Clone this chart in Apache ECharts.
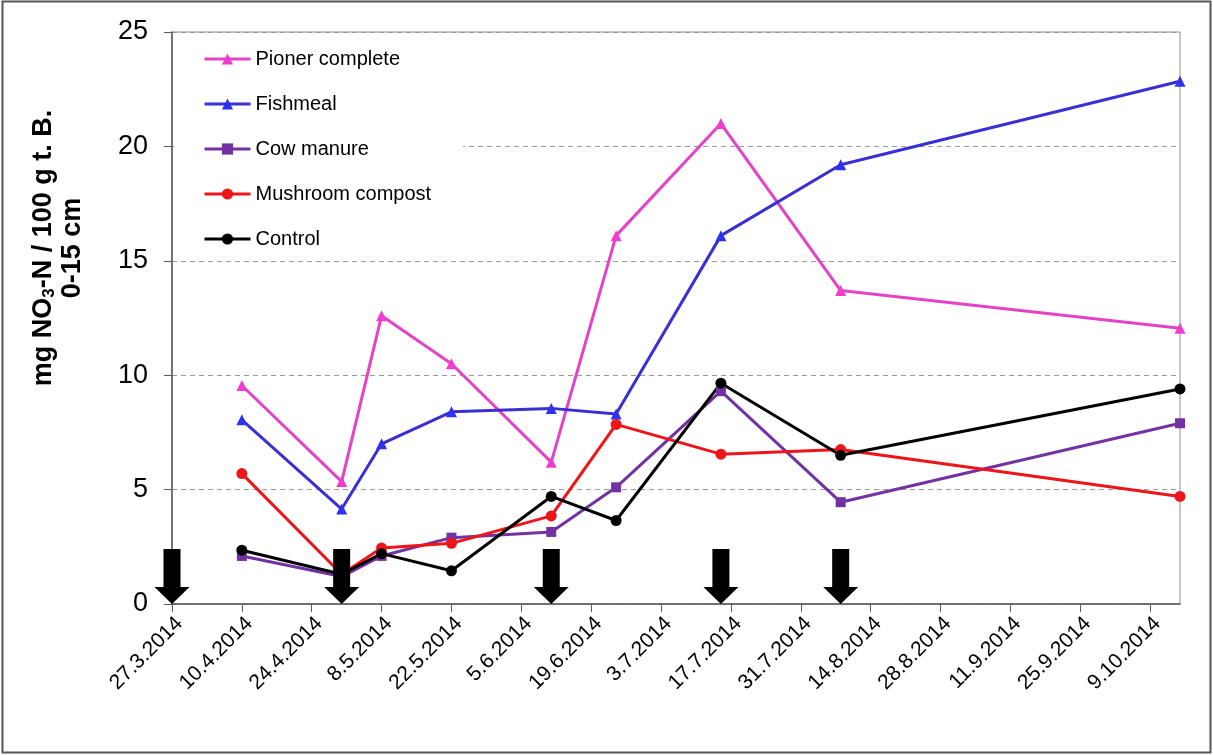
<!DOCTYPE html>
<html>
<head>
<meta charset="utf-8">
<title>NO3-N 0-15 cm</title>
<script src="https://cdn.jsdelivr.net/npm/echarts@6/dist/echarts.min.js"></script>
<style>
  html, body { margin: 0; padding: 0; background: #fff; }
  #chart { width: 1213px; height: 755px; }
</style>
</head>
<body>
<div id="chart"></div>
<script>
// Sampling dates (day.month.year) and NO3-N values, mg / 100 g dry soil, 0-15 cm
const sampleDates = ['10.4.2014', '30.4.2014', '8.5.2014', '22.5.2014', '11.6.2014',
                     '24.6.2014', '15.7.2014', '8.8.2014', '15.10.2014'];
const pionerComplete = [9.55, 5.35, 12.6, 10.5, 6.2, 16.1, 21.0, 13.7, 12.05];
const fishmeal       = [8.05, 4.15, 7.0, 8.4, 8.55, 8.3, 16.1, 19.2, 22.85];
const cowManure      = [2.1, 1.2, 2.1, 2.9, 3.15, 5.1, 9.3, 4.45, 7.9];
const mushroomCompost= [5.7, 1.3, 2.45, 2.65, 3.85, 7.85, 6.55, 6.75, 4.7];
const control        = [2.35, 1.3, 2.2, 1.45, 4.7, 3.65, 9.65, 6.5, 9.4];

// Fertilisation dates, shown as arrows on the x axis
const fertilisationDates = ['27.3.2014', '30.4.2014', '11.6.2014', '15.7.2014', '8.8.2014'];

// Axis range and tick spacing
const axisStart = '27.3.2014';
const axisEnd = '15.10.2014';
const tickDays = 14;
const yMin = 0, yMax = 25, yStep = 5;

const DAY = 86400000;
const toTime = s => {
  const [d, m, y] = s.split('.').map(Number);
  return Date.UTC(y, m - 1, d);
};
const fmtDate = v => {
  const d = new Date(v);
  return d.getUTCDate() + '.' + (d.getUTCMonth() + 1) + '.' + d.getUTCFullYear();
};
const pairs = vals => vals.map((v, i) => [toTime(sampleDates[i]), v]);

const FONT = 'Arial, "Liberation Sans", sans-serif';
const arrowPath = 'path://M9,0 L26,0 L26,38 L35,38 L17.5,55 L0,38 L9,38 Z';

const lineSeries = (name, data, color, symbol, size, markerColor) => ({
  name,
  type: 'line',
  data: pairs(data),
  symbol,
  symbolSize: size,
  showAllSymbol: true,
  lineStyle: { color, width: 3 },
  itemStyle: { color: markerColor || color, opacity: 1 },
  emphasis: { disabled: true },
  z: 3
});

const chart = echarts.init(document.getElementById('chart'), null, { renderer: 'canvas' });
chart.setOption({
  animation: false,
  backgroundColor: '#fff',
  textStyle: { fontFamily: FONT },
  grid: {
    left: 172, right: 33, top: 32, bottom: 151,
    show: true, borderColor: '#8c8c8c', borderWidth: 1, backgroundColor: 'transparent'
  },
  legend: {
    orient: 'vertical',
    left: 174, top: 33.5,
    padding: [15.5, 32, 6, 29],
    backgroundColor: '#fff',
    itemWidth: 46, itemHeight: 14, itemGap: 25,
    lineStyle: { width: 3 },
    textStyle: { fontSize: 20, color: '#000', fontFamily: FONT, lineHeight: 20 },
    data: ['Pioner complete', 'Fishmeal', 'Cow manure', 'Mushroom compost', 'Control']
  },
  xAxis: {
    type: 'value',
    min: toTime(axisStart),
    max: toTime(axisEnd),
    interval: tickDays * DAY,
    axisLine: { lineStyle: { color: '#595959', width: 1.5 } },
    axisTick: { show: true, inside: false, length: 8, lineStyle: { color: '#595959' } },
    splitLine: { show: false },
    axisLabel: {
      rotate: 45, margin: 9, fontSize: 21, color: '#000', fontFamily: FONT,
      verticalAlign: 'top',
      showMaxLabel: false, formatter: fmtDate
    }
  },
  yAxis: {
    type: 'value',
    min: yMin, max: yMax, interval: yStep,
    axisLine: { show: true, lineStyle: { color: '#595959', width: 1.5 } },
    axisTick: { show: true, inside: false, length: 8, lineStyle: { color: '#595959' } },
    splitLine: { show: true, lineStyle: { color: '#9a9a9a', type: [5, 4], width: 1 } },
    axisLabel: { margin: 24, fontSize: 27, color: '#000', fontFamily: FONT }
  },
  graphic: [
    {
      type: 'rect', silent: true, z: -1,
      shape: { x: 2.5, y: 1.5, width: 1208, height: 751 },
      style: { fill: 'none', stroke: '#555', lineWidth: 2 }
    },
    {
      type: 'text', silent: true,
      x: 58, y: 248, rotation: Math.PI / 2,
      style: {
        text: '{a|mg NO}{s|3}{a|-N / 100 g t. B.}\n{a|0-15 cm}',
        align: 'center', verticalAlign: 'middle',
        rich: {
          a: { fontSize: 27, fontWeight: 'bold', fontFamily: FONT, fill: '#000', lineHeight: 29, align: 'center' },
          s: { fontSize: 17, fontWeight: 'bold', fontFamily: FONT, fill: '#000', lineHeight: 17, verticalAlign: 'bottom', align: 'center' }
        }
      }
    }
  ],
  series: [
    lineSeries('Pioner complete', pionerComplete, '#E343C5', 'triangle', 11, '#F03CD0'),
    lineSeries('Fishmeal', fishmeal, '#3A2FD2', 'triangle', 11, '#3030F0'),
    lineSeries('Cow manure', cowManure, '#7133A3', 'rect', 10),
    lineSeries('Mushroom compost', mushroomCompost, '#EE1418', 'circle', 11),
    lineSeries('Control', control, '#000000', 'circle', 11),
    {
      name: 'fertilisation',
      type: 'scatter',
      data: fertilisationDates.map(d => [toTime(d), 0]),
      symbol: arrowPath,
      symbolSize: [35, 55],
      symbolOffset: [0, '-50%'],
      itemStyle: { color: '#000', opacity: 1 },
      clip: false,
      silent: true,
      emphasis: { disabled: true },
      z: 10
    }
  ]
});
</script>
</body>
</html>
